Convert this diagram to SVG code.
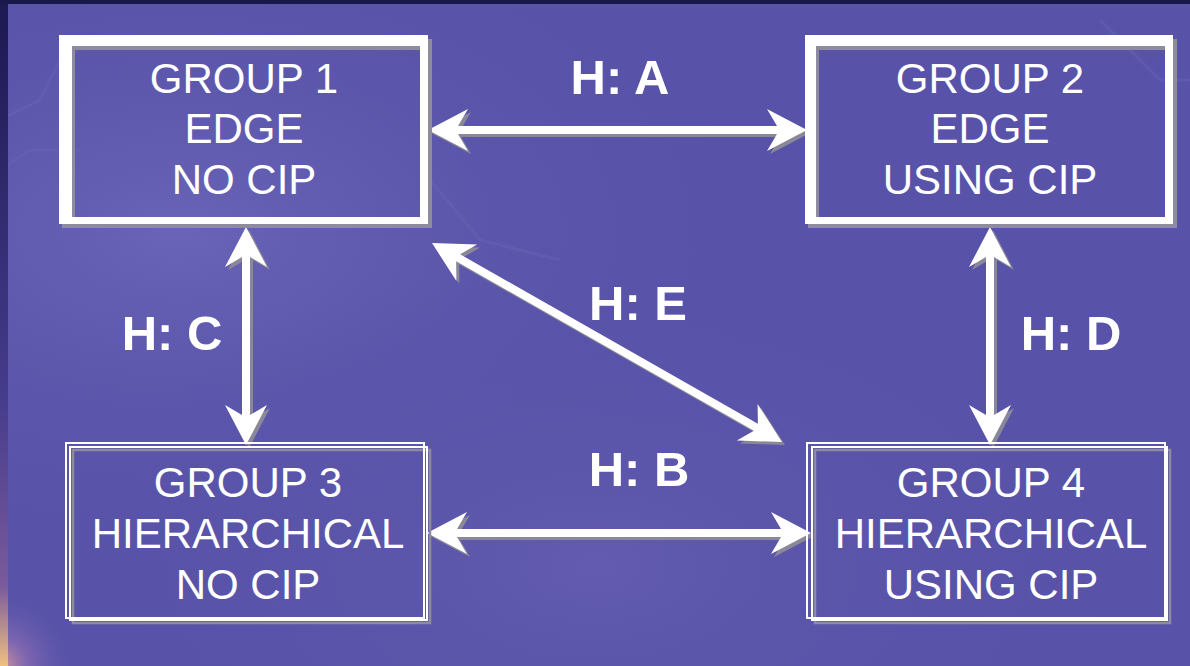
<svg xmlns="http://www.w3.org/2000/svg" xmlns:xlink="http://www.w3.org/1999/xlink" width="1190" height="666" viewBox="0 0 1190 666">
<style>
.nodetext{font-family:"Liberation Sans",Arial,sans-serif;font-size:42px;fill:#ffffff;text-anchor:middle}
.label{font-family:"Liberation Sans",Arial,sans-serif;font-size:49px;font-weight:bold;fill:#ffffff;text-anchor:middle}
.frame{fill:#ffffff;fill-rule:evenodd}
.frameShadow{fill:#8e8c9c;fill-rule:evenodd}
.thin{fill:none;stroke:#ffffff;stroke-width:2}
.thinShadow{fill:none;stroke:#8e8c9c;stroke-width:2.5}
.arrow{fill:#ffffff}
.arrowShadow{fill:#8a8898}
</style>
<defs>
<radialGradient id="glow1" cx="0.15" cy="0.35" r="0.5">
<stop offset="0" stop-color="#6a64b8"/>
<stop offset="1" stop-color="#5853a8" stop-opacity="0"/>
</radialGradient>
<radialGradient id="glow2" cx="0.5" cy="0.85" r="0.45">
<stop offset="0" stop-color="#625bb0"/>
<stop offset="1" stop-color="#5853a8" stop-opacity="0"/>
</radialGradient>
<radialGradient id="corner" gradientUnits="userSpaceOnUse" cx="0" cy="666" r="70">
<stop offset="0" stop-color="#e0a090" stop-opacity="0.9"/>
<stop offset="0.4" stop-color="#a478b8" stop-opacity="0.5"/>
<stop offset="1" stop-color="#6a5fb4" stop-opacity="0"/>
</radialGradient>
<linearGradient id="leftStrip" x1="0" y1="0" x2="0" y2="1">
<stop offset="0" stop-color="#1c1850"/>
<stop offset="0.6" stop-color="#463c8c"/>
<stop offset="0.88" stop-color="#7a5a9c"/>
<stop offset="1" stop-color="#f0c080"/>
</linearGradient>
<path id="arrA" d="M428,130 L468,109 L458,126 L777,126 L767,109 L807,130 L767,151 L777,134 L458,134 L468,151 Z"/>
<path id="arrB" d="M427,533 L467,512 L457,529 L781,529 L771,512 L811,533 L771,554 L781,537 L457,537 L467,554 Z"/>
<path id="arrC" d="M246,227 L267,267 L250,257 L250,415 L267,405 L246,445 L225,405 L242,415 L242,257 L225,267 Z"/>
<path id="arrD" d="M990,227 L1011,267 L994,257 L994,415 L1011,405 L990,445 L969,405 L986,415 L986,257 L969,267 Z"/>
<path id="arrE" transform="translate(432,243) rotate(29.62)" d="M0,0 L40,-21 L30,-4 L372.6,-4 L362.6,-21 L402.6,0 L362.6,21 L372.6,4 L30,4 L40,21 Z"/>
</defs>

<g id="background">
<rect x="0" y="0" width="1190" height="666" fill="#5853a8"/>
<rect x="0" y="0" width="1190" height="666" fill="url(#glow1)"/>
<rect x="0" y="0" width="1190" height="666" fill="url(#glow2)"/>
<g fill="none" stroke="#6e69bd" stroke-width="3" opacity="0.3">
<path d="M0,120 L40,100 L60,60 L100,40"/>
<path d="M0,170 L30,150 L80,150"/>
<path d="M430,180 L480,240 L560,260"/>
<path d="M1100,20 L1160,80 L1190,80"/>
</g>
<rect x="0" y="0" width="1190" height="666" fill="url(#corner)"/>
<rect x="0" y="0" width="8" height="666" fill="url(#leftStrip)"/>
<rect x="0" y="0" width="1190" height="4" fill="#1a1848"/>
</g>

<g id="connectors">
<use xlink:href="#arrA" class="arrowShadow" transform="translate(3,3)"/>
<use xlink:href="#arrA" class="arrow"/>
<use xlink:href="#arrB" class="arrowShadow" transform="translate(3,3)"/>
<use xlink:href="#arrB" class="arrow"/>
<use xlink:href="#arrC" class="arrowShadow" transform="translate(3,3)"/>
<use xlink:href="#arrC" class="arrow"/>
<use xlink:href="#arrD" class="arrowShadow" transform="translate(3,3)"/>
<use xlink:href="#arrD" class="arrow"/>
<use xlink:href="#arrE" class="arrowShadow" transform="translate(3,3)"/>
<use xlink:href="#arrE" class="arrow"/>
<text class="label" x="620" y="94">H: A</text>
<text class="label" x="639" y="486">H: B</text>
<text class="label" x="172" y="350">H: C</text>
<text class="label" x="1071" y="350">H: D</text>
<text class="label" x="638" y="320">H: E</text>
</g>

<g id="group1">
<path class="frameShadow" d="M62,39 H432 V228 H62 Z M75,50 V221 H423 V50 Z"/>
<path class="frame" d="M59,35 H428 V224 H59 Z M72,46 V217 H420 V46 Z"/>
<text class="nodetext" x="244" y="93">GROUP 1</text>
<text class="nodetext" x="244" y="143">EDGE</text>
<text class="nodetext" x="244" y="194">NO CIP</text>
</g>

<g id="group2">
<path class="frameShadow" d="M808,39 H1177 V228 H808 Z M819,50 V221 H1168 V50 Z"/>
<path class="frame" d="M805,35 H1173 V224 H805 Z M816,46 V217 H1165 V46 Z"/>
<text class="nodetext" x="990" y="93">GROUP 2</text>
<text class="nodetext" x="990" y="143">EDGE</text>
<text class="nodetext" x="990" y="194">USING CIP</text>
</g>

<g id="group3">
<rect class="thinShadow" x="73" y="450" width="357" height="173"/>
<rect class="thin" x="66" y="443" width="358" height="175"/>
<rect class="thin" x="70" y="447" width="357" height="173"/>
<text class="nodetext" x="248" y="497">GROUP 3</text>
<text class="nodetext" x="248" y="548">HIERARCHICAL</text>
<text class="nodetext" x="248" y="599">NO CIP</text>
</g>

<g id="group4">
<rect class="thinShadow" x="815" y="450" width="355" height="173"/>
<rect class="thin" x="807" y="443" width="358" height="175"/>
<rect class="thin" x="812" y="447" width="355" height="173"/>
<text class="nodetext" x="991" y="497">GROUP 4</text>
<text class="nodetext" x="991" y="548">HIERARCHICAL</text>
<text class="nodetext" x="991" y="599">USING CIP</text>
</g>
</svg>
